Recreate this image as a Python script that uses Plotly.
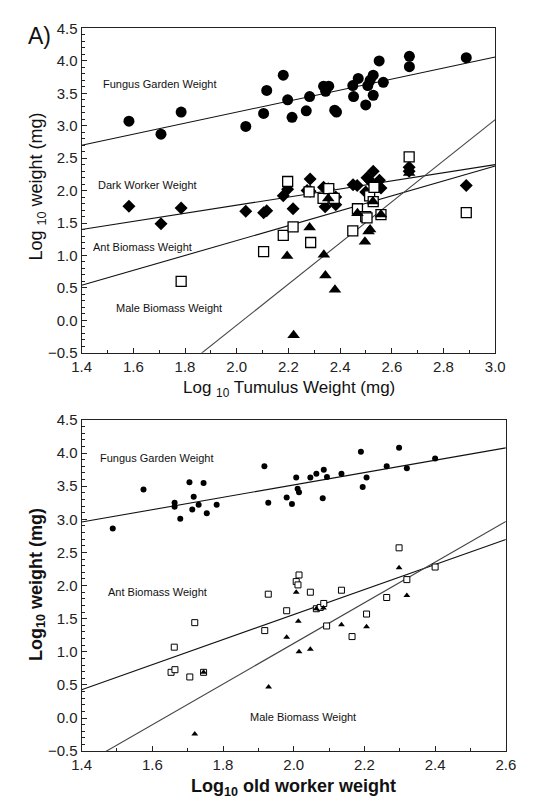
import plotly.graph_objects as go

# ---------------- Panel A (top): vs Log10 Tumulus Weight ----------------
top_fungus_x = [1.583, 1.707, 1.785, 2.035, 2.104, 2.116, 2.18, 2.197, 2.214, 2.269, 2.282,
                2.336, 2.344, 2.356, 2.379, 2.386, 2.449, 2.452, 2.47, 2.499, 2.507, 2.516,
                2.528, 2.528, 2.551, 2.567, 2.668, 2.668, 2.888]
top_fungus_y = [3.07, 2.87, 3.21, 2.99, 3.19, 3.545, 3.78, 3.40, 3.13, 3.23, 3.45,
                3.61, 3.53, 3.61, 3.24, 3.21, 3.62, 3.45, 3.73, 3.32, 3.62, 3.70,
                3.78, 3.47, 4.00, 3.67, 4.07, 3.91, 4.05]

top_dark_x = [1.583, 1.707, 1.785, 2.035, 2.104, 2.116, 2.18, 2.197, 2.218, 2.272, 2.284,
              2.284, 2.336, 2.342, 2.354, 2.383, 2.383, 2.45, 2.466, 2.499, 2.504, 2.516,
              2.528, 2.552, 2.558, 2.667, 2.667, 2.888]
top_dark_y = [1.76, 1.49, 1.73, 1.68, 1.66, 1.69, 1.92, 2.02, 1.72, 2.00, 2.18,
              1.99, 2.05, 1.75, 2.03, 1.90, 1.78, 2.09, 2.08, 1.98, 2.20, 2.15,
              2.30, 2.16, 2.04, 2.36, 2.30, 2.08]

top_ant_x = [1.785, 2.104, 2.18, 2.197, 2.218, 2.28, 2.286, 2.334, 2.356, 2.377, 2.449,
             2.467, 2.499, 2.504, 2.514, 2.528, 2.531, 2.558, 2.667, 2.888]
top_ant_y = [0.60, 1.06, 1.31, 2.14, 1.44, 1.98, 1.20, 1.88, 2.03, 1.88, 1.38,
             1.72, 1.60, 1.58, 1.92, 1.83, 2.05, 1.63, 2.52, 1.66]

top_male_x = [2.195, 2.22, 2.282, 2.337, 2.343, 2.354, 2.38, 2.467, 2.496, 2.51, 2.516,
              2.527, 2.558, 2.667]
top_male_y = [0.99, -0.23, 1.43, 1.01, 0.69, 1.88, 0.47, 1.65, 1.21, 1.37, 1.40,
              1.83, 1.63, 2.27]

# regression fits (intercept, slope)
top_fit_names = ["fungus", "dark", "ant", "male"]
top_fit_intercept = [1.51, 0.525, -1.07, -6.415]
top_fit_slope = [0.85, 0.625, 1.15, 3.17]

# ---------------- Bottom panel: vs Log10 old worker weight ----------------
bot_fungus_x = [1.488, 1.575, 1.663, 1.663, 1.679, 1.705, 1.713, 1.717, 1.731, 1.745, 1.754,
                1.782, 1.917, 1.928, 1.98, 1.995, 2.007, 2.011, 2.015, 2.047, 2.064, 2.082,
                2.085, 2.094, 2.135, 2.19, 2.195, 2.206, 2.263, 2.298, 2.32, 2.40]
bot_fungus_y = [2.86, 3.45, 3.19, 3.25, 3.01, 3.56, 3.15, 3.34, 3.22, 3.55, 3.09,
                3.22, 3.80, 3.25, 3.33, 3.23, 3.63, 3.46, 3.41, 3.63, 3.69, 3.32,
                3.75, 3.64, 3.69, 4.02, 3.49, 3.63, 3.80, 4.08, 3.77, 3.92]

bot_ant_x = [1.653, 1.662, 1.664, 1.706, 1.72, 1.745, 1.918, 1.928, 1.98, 2.007, 2.012,
             2.015, 2.047, 2.064, 2.075, 2.085, 2.093, 2.135, 2.165, 2.206, 2.263, 2.298,
             2.32, 2.40]
bot_ant_y = [0.69, 1.07, 0.73, 0.62, 1.44, 0.69, 1.32, 1.87, 1.62, 2.06, 2.01,
             2.16, 1.90, 1.65, 1.67, 1.73, 1.39, 1.93, 1.23, 1.57, 1.82, 2.57,
             2.09, 2.28]

bot_male_x = [1.72, 1.745, 1.929, 1.98, 2.007, 2.013, 2.015, 2.047, 2.064, 2.084, 2.135,
              2.206, 2.298, 2.32]
bot_male_y = [-0.24, 0.69, 0.47, 1.22, 1.90, 1.46, 1.00, 1.04, 1.65, 1.66, 1.41,
              1.38, 2.27, 1.85]

bot_fit_names = ["fungus", "ant", "male"]
bot_fit_intercept = [1.653, -2.218, -5.013]
bot_fit_slope = [0.933, 1.89, 3.07]

top_xrange = [1.4, 3.0]
bot_xrange = [1.4, 2.6]
yrange = [-0.5, 4.5]

FONT = "Liberation Sans, Arial, sans-serif"

fig = go.Figure()

def add_points(x, y, xa, ya, symbol, size, filled=True, lw=1.2):
    fig.add_trace(go.Scatter(
        x=x, y=y, mode="markers", xaxis=xa, yaxis=ya, showlegend=False,
        marker=dict(symbol=symbol, size=size,
                    color="black" if filled else "white",
                    line=dict(color="black", width=0 if filled else lw))))

def add_fit(b0, b1, xr, xa, ya, color="#111", width=1.1):
    xs = [xr[0], xr[1]]
    ys = [b0 + b1 * v for v in xs]
    fig.add_trace(go.Scatter(x=xs, y=ys, mode="lines", xaxis=xa, yaxis=ya,
                             showlegend=False, line=dict(color=color, width=width)))

# top panel
for b0, b1, nm in zip(top_fit_intercept, top_fit_slope, top_fit_names):
    add_fit(b0, b1, top_xrange, "x", "y", color="#444" if nm == "male" else "#111")
add_points(top_fungus_x, top_fungus_y, "x", "y", "circle", 11)
add_points(top_dark_x, top_dark_y, "x", "y", "diamond", 10)
add_points(top_ant_x, top_ant_y, "x", "y", "square", 10, filled=False, lw=1.3)
add_points(top_male_x, top_male_y, "x", "y", "triangle-up", 11)

# bottom panel
for b0, b1, nm in zip(bot_fit_intercept, bot_fit_slope, bot_fit_names):
    add_fit(b0, b1, bot_xrange, "x2", "y2", color="#444" if nm == "male" else "#111")
add_points(bot_fungus_x, bot_fungus_y, "x2", "y2", "circle", 6)
add_points(bot_ant_x, bot_ant_y, "x2", "y2", "square", 6, filled=False, lw=1.0)
add_points(bot_male_x, bot_male_y, "x2", "y2", "triangle-up", 6)

W, H = 557, 804
def px2x(p): return p / W
def px2y(p): return 1 - p / H

axis_common = dict(showgrid=False, zeroline=False, showline=True, linecolor="#222",
                   linewidth=1.2, mirror=True, ticks="inside", ticklen=5, tickcolor="#222",
                   tickfont=dict(family=FONT, size=15, color="#222"), tickformat=".1f")

fig.update_layout(
    width=W, height=H, margin=dict(l=0, r=0, t=0, b=0),
    plot_bgcolor="white", paper_bgcolor="white",
    xaxis=dict(domain=[px2x(66), px2x(495)], range=top_xrange, dtick=0.2, tick0=1.4,
               anchor="y", minor=dict(dtick=0.1, ticklen=3, ticks="inside", tickcolor="#222"),
               **axis_common),
    yaxis=dict(domain=[px2y(343), px2y(11.7)], range=yrange, dtick=0.5, tick0=-0.5,
               anchor="x", minor=dict(dtick=0.1, ticklen=3, ticks="inside", tickcolor="#222"),
               **axis_common),
    xaxis2=dict(domain=[px2x(66), px2x(506)], range=bot_xrange, dtick=0.2, tick0=1.4,
                anchor="y2", minor=dict(dtick=0.1, ticklen=3, ticks="inside", tickcolor="#222"),
                **axis_common),
    yaxis2=dict(domain=[px2y(750), px2y(411.7)], range=yrange, dtick=0.5, tick0=-0.5,
                anchor="x2", minor=dict(dtick=0.1, ticklen=3, ticks="inside", tickcolor="#222"),
                **axis_common),
)

ann = []
def label(text, x, y, xref, yref, size=11, xanchor="left", **kw):
    ann.append(dict(text=text, x=x, y=y, xref=xref, yref=yref, showarrow=False,
                    xanchor=xanchor, yanchor="middle",
                    font=dict(family=FONT, size=size, color="#111"), **kw))

# in-plot labels (top)
label("Fungus Garden Weight", 1.475, 3.65, "x", "y")
label("Dark Worker Weight", 1.455, 2.08, "x", "y")
label("Ant Biomass Weight", 1.435, 1.13, "x", "y")
label("Male Biomass Weight", 1.525, 0.19, "x", "y")
# in-plot labels (bottom)
label("Fungus Garden Weight", 1.447, 3.93, "x2", "y2")
label("Ant Biomass Weight", 1.47, 1.91, "x2", "y2")
label("Male Biomass Weight", 2.025, 0.01, "x2", "y2", xanchor="center")

# titles
label("A)", px2x(8), px2y(19), "paper", "paper", size=23)
label("Log <sub>10</sub> Tumulus Weight (mg)", px2x(281), px2y(380), "paper", "paper",
      size=17, xanchor="center")
label("Log <sub>10</sub> weight (mg)", px2x(20), px2y(173), "paper", "paper",
      size=18, xanchor="center", textangle=-90)
label("<b>Log<sub>10</sub> old worker weight</b>", px2x(286), px2y(787), "paper", "paper",
      size=18, xanchor="center")
label("<b>Log<sub>10</sub> weight (mg)</b>", px2x(20), px2y(580), "paper", "paper",
      size=18, xanchor="center", textangle=-90)

fig.update_layout(annotations=ann)

fig.write_html("out.html")
